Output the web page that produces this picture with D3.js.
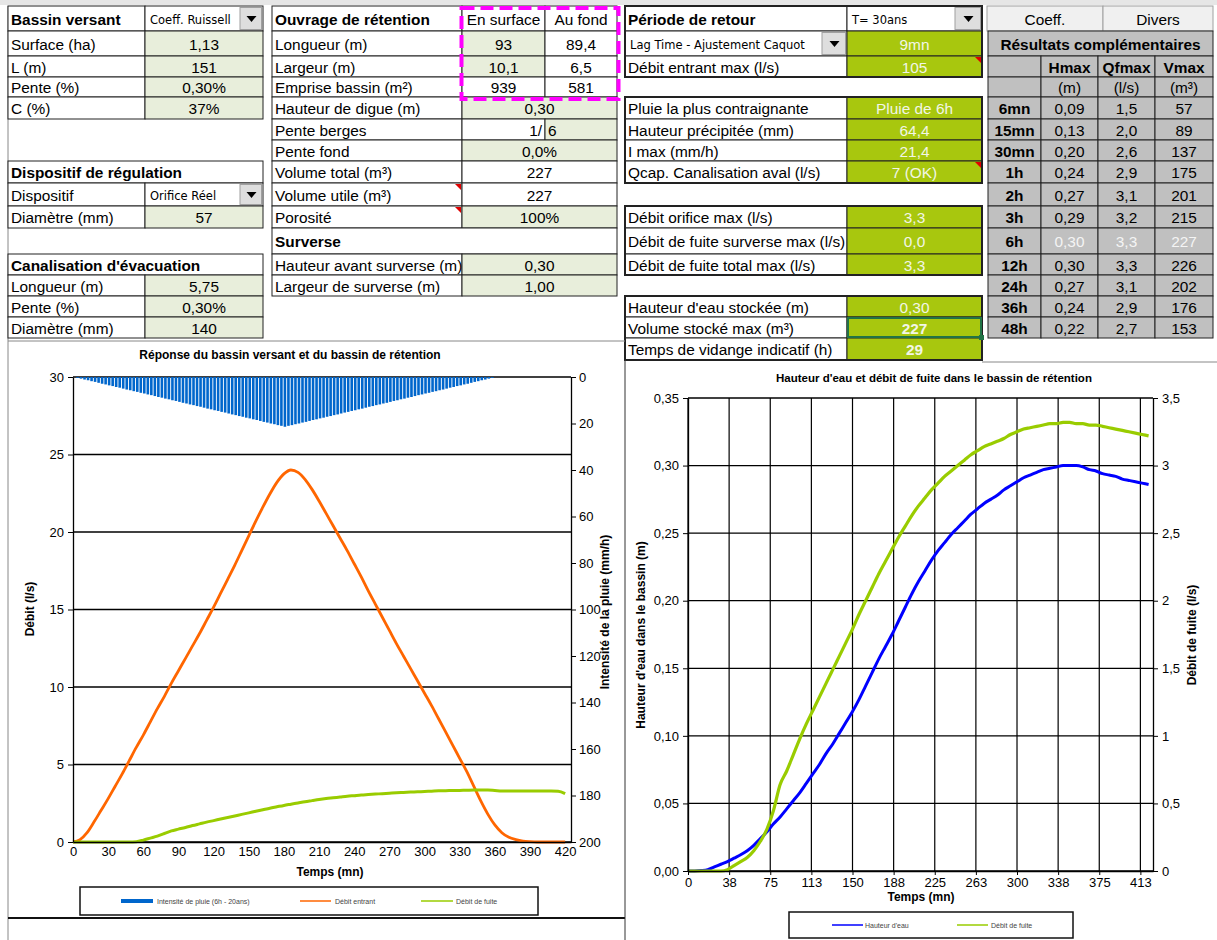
<!DOCTYPE html>
<html>
<head>
<meta charset="utf-8">
<title>Bassin de rétention</title>
<script src="https://d3js.org/d3.v7.min.js"></script>
<style>
body { margin: 0; background: #fff; }
svg { display: block; font-family: "Liberation Sans", Arial, sans-serif; }
</style>
</head>
<body>
<svg id="sheet" width="1217" height="940"></svg>
<script>
// ---- tableaux de la feuille ----
var bvLabels = ["Surface (ha)", "L (m)", "Pente (%)", "C (%)"];
var bvValeurs = ["1,13", "151", "0,30%", "37%"];
var canaLabels = ["Longueur (m)", "Pente (%)", "Diamètre (mm)"];
var canaValeurs = ["5,75", "0,30%", "140"];

var ouvLabels = ["Longueur (m)", "Largeur (m)", "Emprise bassin (m²)"];
var ouvSurface = ["93", "10,1", "939"];
var ouvFond = ["89,4", "6,5", "581"];
var ouvLabels2 = ["Hauteur de digue (m)", "Pente berges", "Pente fond", "Volume total (m³)", "Volume utile (m³)", "Porosité"];
var ouvValeurs2 = ["0,30", "6", "0,0%", "227", "227", "100%"];
var surverseLabels = ["Hauteur avant surverse (m)", "Largeur de surverse (m)"];
var surverseValeurs = ["0,30", "1,00"];

var pluieLabels = ["Pluie la plus contraignante", "Hauteur précipitée (mm)", "I max (mm/h)", "Qcap. Canalisation aval (l/s)"];
var pluieValeurs = ["Pluie de 6h", "64,4", "21,4", "7 (OK)"];
var fuiteLabels = ["Débit orifice max (l/s)", "Débit de fuite surverse max (l/s)", "Débit de fuite total max (l/s)"];
var fuiteValeurs = ["3,3", "0,0", "3,3"];
var stockLabels = ["Hauteur d'eau stockée (m)", "Volume stocké max (m³)", "Temps de vidange indicatif (h)"];
var stockValeurs = ["0,30", "227", "29"];

var dureesPluie = ["6mn", "15mn", "30mn", "1h", "2h", "3h", "6h", "12h", "24h", "36h", "48h"];
var hmax = ["0,09", "0,13", "0,20", "0,24", "0,27", "0,29", "0,30", "0,30", "0,27", "0,24", "0,22"];
var qfmax = ["1,5", "2,0", "2,6", "2,9", "3,1", "3,2", "3,3", "3,3", "3,1", "2,9", "2,7"];
var vmax = ["57", "89", "137", "175", "201", "215", "227", "226", "202", "176", "153"];

// ---- séries des graphiques ----
var temps = [0, 6, 12, 18, 24, 30, 36, 42, 48, 54, 60, 66, 72, 78, 84, 90, 96, 102, 108, 114, 120,
  126, 132, 138, 144, 150, 156, 162, 168, 174, 180, 186, 192, 198, 204, 210, 216, 222, 228, 234, 240,
  246, 252, 258, 264, 270, 276, 282, 288, 294, 300, 306, 312, 318, 324, 330, 336, 342, 348, 354, 360,
  366, 372, 378, 384, 390, 396, 402, 408, 414, 420];
var debitEntrant = [0, 0.15, 0.6, 1.3, 2.05, 2.8, 3.6, 4.4, 5.25, 6.1, 6.9, 7.75, 8.6, 9.4, 10.25, 11.05, 11.85, 12.65, 13.45, 14.3, 15.15,
  16.05, 16.95, 17.85, 18.8, 19.75, 20.7, 21.6, 22.45, 23.2, 23.75, 24.0, 23.85, 23.4, 22.75, 22.0, 21.2, 20.4, 19.6, 18.8, 17.95,
  17.1, 16.2, 15.35, 14.5, 13.65, 12.8, 12.0, 11.2, 10.4, 9.6, 8.8, 7.95, 7.1, 6.25, 5.4, 4.55, 3.6, 2.65, 1.8, 1.1,
  0.6, 0.3, 0.15, 0.06, 0.02, 0, 0, 0, 0, 0];
var debitFuite = [0, 0, 0, 0, 0, 0, 0, 0, 0, 0.02, 0.12, 0.25, 0.38, 0.55, 0.72, 0.83, 0.94, 1.06, 1.17, 1.28, 1.38,
  1.48, 1.58, 1.68, 1.78, 1.88, 1.98, 2.08, 2.18, 2.27, 2.36, 2.44, 2.52, 2.6, 2.67, 2.74, 2.8, 2.85, 2.9, 2.95, 2.99,
  3.03, 3.06, 3.09, 3.12, 3.15, 3.18, 3.2, 3.22, 3.24, 3.26, 3.28, 3.3, 3.31, 3.32, 3.33, 3.34, 3.35, 3.35, 3.35, 3.32,
  3.29, 3.29, 3.29, 3.29, 3.29, 3.29, 3.29, 3.29, 3.28, 3.12];
var tempsPluie = [0, 3, 6, 9, 12, 15, 18, 21, 24, 27, 30, 33, 36, 39, 42, 45, 48, 51, 54, 57, 60,
  63, 66, 69, 72, 75, 78, 81, 84, 87, 90, 93, 96, 99, 102, 105, 108, 111, 114, 117, 120,
  123, 126, 129, 132, 135, 138, 141, 144, 147, 150, 153, 156, 159, 162, 165, 168, 171, 174, 177, 180,
  183, 186, 189, 192, 195, 198, 201, 204, 207, 210, 213, 216, 219, 222, 225, 228, 231, 234, 237, 240,
  243, 246, 249, 252, 255, 258, 261, 264, 267, 270, 273, 276, 279, 282, 285, 288, 291, 294, 297, 300,
  303, 306, 309, 312, 315, 318, 321, 324, 327, 330, 333, 336, 339, 342, 345, 348, 351, 354, 357, 360];
var intensitePluie = [0, 0.4, 0.7, 1.1, 1.4, 1.8, 2.1, 2.5, 2.9, 3.2, 3.6, 3.9, 4.3, 4.6, 5.0, 5.4, 5.7, 6.1, 6.4, 6.8, 7.1,
  7.5, 7.8, 8.2, 8.6, 8.9, 9.3, 9.6, 10.0, 10.3, 10.7, 11.1, 11.4, 11.8, 12.1, 12.5, 12.8, 13.2, 13.6, 13.9, 14.3,
  14.6, 15.0, 15.3, 15.7, 16.1, 16.4, 16.8, 17.1, 17.5, 17.8, 18.2, 18.5, 18.9, 19.3, 19.6, 20.0, 20.3, 20.7, 21.0, 21.4,
  21.0, 20.7, 20.3, 20.0, 19.6, 19.3, 18.9, 18.5, 18.2, 17.8, 17.5, 17.1, 16.8, 16.4, 16.1, 15.7, 15.3, 15.0, 14.6, 14.3,
  13.9, 13.6, 13.2, 12.8, 12.5, 12.1, 11.8, 11.4, 11.1, 10.7, 10.3, 10.0, 9.6, 9.3, 8.9, 8.6, 8.2, 7.8, 7.5, 7.1,
  6.8, 6.4, 6.1, 5.7, 5.4, 5.0, 4.6, 4.3, 3.9, 3.6, 3.2, 2.9, 2.5, 2.1, 1.8, 1.4, 1.1, 0.7, 0.4, 0];
var hauteurEau = [0, 0, 0.0003, 0.001, 0.003, 0.005, 0.007, 0.0095, 0.012, 0.015, 0.019, 0.024, 0.029, 0.035, 0.04, 0.046, 0.052, 0.058, 0.065, 0.072, 0.079,
  0.087, 0.094, 0.102, 0.110, 0.118, 0.127, 0.137, 0.147, 0.157, 0.166, 0.175, 0.185, 0.195, 0.205, 0.214, 0.222, 0.230, 0.237, 0.243, 0.249,
  0.254, 0.259, 0.264, 0.268, 0.272, 0.275, 0.278, 0.282, 0.285, 0.288, 0.291, 0.293, 0.295, 0.297, 0.298, 0.299, 0.300, 0.300, 0.300, 0.299,
  0.297, 0.296, 0.294, 0.293, 0.292, 0.290, 0.289, 0.288, 0.287, 0.286];
var debitFuiteBassin = [0, 0, 0, 0, 0, 0, 0.01, 0.04, 0.07, 0.1, 0.15, 0.22, 0.31, 0.45, 0.64, 0.74, 0.86, 0.98, 1.09, 1.19, 1.29,
  1.39, 1.49, 1.59, 1.69, 1.79, 1.9, 2.0, 2.1, 2.2, 2.29, 2.38, 2.47, 2.55, 2.63, 2.7, 2.76, 2.82, 2.87, 2.92, 2.96,
  3.0, 3.04, 3.08, 3.11, 3.14, 3.16, 3.18, 3.2, 3.23, 3.25, 3.27, 3.28, 3.29, 3.3, 3.31, 3.31, 3.32, 3.32, 3.31, 3.31,
  3.3, 3.3, 3.29, 3.28, 3.27, 3.26, 3.25, 3.24, 3.23, 3.22];

var ticksTemps = [0, 30, 60, 90, 120, 150, 180, 210, 240, 270, 300, 330, 360, 390, 420];
var ticksDebit = [0, 5, 10, 15, 20, 25, 30];
var ticksIntensite = [0, 20, 40, 60, 80, 100, 120, 140, 160, 180, 200];
var ticksTemps2 = [0, 37.5, 75, 112.5, 150, 187.5, 225, 262.5, 300, 337.5, 375, 412.5];
var ticksHauteur = [0, 0.05, 0.1, 0.15, 0.2, 0.25, 0.3, 0.35];
var ticksFuite = [0, 0.5, 1, 1.5, 2, 2.5, 3, 3.5];

// ---- mise en page ----
var svg = d3.select("#sheet");
var rowTop = [6, 31, 56, 77, 97, 119, 140, 161, 183, 206, 228, 254, 275, 296, 317, 338, 360];
var VERT = "#e8eedb", OLIVE = "#a8c70e", GRIS = "#c0c0c0";
var fr = d3.formatLocale({decimal: ",", thousands: " ", grouping: [3], currency: ["", "€"]});

svg.append("rect").attr("x", 0).attr("y", 0).attr("width", 1217).attr("height", 5).attr("fill", "#e6e6e6");

function cell(x0, x1, r, txt, o) {
  o = o || {};
  var y0 = rowTop[r], y1 = rowTop[r + 1];
  svg.append("rect").attr("x", x0).attr("y", y0).attr("width", x1 - x0).attr("height", y1 - y0)
    .attr("fill", o.fill || "#fff").attr("stroke", o.stroke || "#222").attr("stroke-width", 1);
  if (txt) {
    var anchor = o.align == "left" ? "start" : o.align == "right" ? "end" : "middle";
    var tx = o.align == "left" ? x0 + 3 : o.align == "right" ? x1 - 3 : (x0 + x1) / 2;
    svg.append("text").attr("x", tx).attr("y", (y0 + y1) / 2 + 1).attr("dy", "0.35em")
      .attr("text-anchor", anchor).attr("font-size", o.size || 15.4)
      .attr("font-weight", o.bold ? "bold" : null)
      .attr("font-family", o.font || null)
      .attr("fill", o.color || "#000").text(txt);
  }
}

function dropdown(x0, x1, bx, r, txt) {
  var y0 = rowTop[r], y1 = rowTop[r + 1];
  cell(x0, x1, r, "");
  svg.append("text").attr("x", x0 + 5).attr("y", (y0 + y1) / 2 + 1).attr("dy", "0.35em")
    .attr("font-family", "DejaVu Sans").attr("font-size", 11.5).text(txt);
  svg.append("rect").attr("x", bx).attr("y", y0 + 1.5).attr("width", x1 - bx - 1.5).attr("height", y1 - y0 - 3)
    .attr("fill", "#dedede").attr("stroke", "#a0a0a0");
  var cx = (bx + x1) / 2, cy = (y0 + y1) / 2;
  svg.append("path").attr("d", "M" + (cx - 5) + "," + (cy - 2.5) + "h10l-5,6z").attr("fill", "#000");
}

function coin(x, y) {
  svg.append("path").attr("d", "M" + (x - 7) + "," + (y + 1) + "h6v6z").attr("fill", "#e00000");
}

// tableau gauche
svg.append("line").attr("x1", 8).attr("x2", 8).attr("y1", 6).attr("y2", 940).attr("stroke", "#888");
cell(8, 145, 0, "Bassin versant", {bold: true, align: "left"});
dropdown(145, 263, 240, 0, "Coeff. Ruissell");
bvLabels.forEach(function(l, i) {
  cell(8, 145, i + 1, l, {align: "left"});
  cell(145, 263, i + 1, bvValeurs[i], {fill: VERT});
});
cell(8, 263, 7, "Dispositif de régulation", {bold: true, align: "left"});
cell(8, 145, 8, "Dispositif", {align: "left"});
dropdown(145, 263, 240, 8, "Orifice Réel");
cell(8, 145, 9, "Diamètre (mm)", {align: "left"});
cell(145, 263, 9, "57", {fill: VERT});
cell(8, 263, 11, "Canalisation d'évacuation", {bold: true, align: "left"});
canaLabels.forEach(function(l, i) {
  cell(8, 145, i + 12, l, {align: "left"});
  cell(145, 263, i + 12, canaValeurs[i], {fill: VERT});
});

// ouvrage de rétention
cell(272, 462, 0, "Ouvrage de rétention", {bold: true, align: "left"});
cell(462, 545, 0, "En surface");
cell(545, 617, 0, "Au fond");
ouvLabels.forEach(function(l, i) {
  cell(272, 462, i + 1, l, {align: "left"});
  cell(462, 545, i + 1, ouvSurface[i], {fill: i < 2 ? VERT : "#fff"});
  cell(545, 617, i + 1, ouvFond[i]);
});
ouvLabels2.forEach(function(l, i) {
  var r = i + 4;
  cell(272, 462, r, l, {align: "left"});
  if (l == "Pente berges") {
    cell(462, 545, r, "1/", {align: "right"});
    cell(545, 617, r, ouvValeurs2[i], {fill: VERT, align: "left"});
  } else {
    cell(462, 617, r, ouvValeurs2[i], {fill: (r == 7 || r == 8) ? "#fff" : VERT});
  }
});
coin(462, rowTop[8]);
coin(462, rowTop[9]);
cell(272, 617, 10, "Surverse", {bold: true, align: "left"});
surverseLabels.forEach(function(l, i) {
  cell(272, 462, i + 11, l, {align: "left"});
  cell(462, 617, i + 11, surverseValeurs[i], {fill: VERT});
});
svg.append("rect").attr("x", 461.5).attr("y", 8).attr("width", 157).attr("height", 91)
  .attr("fill", "none").attr("stroke", "#ff00ff").attr("stroke-width", 4).attr("stroke-dasharray", "13,6");

// période de retour
var light = "#f2f6e6";
cell(625, 847, 0, "Période de retour", {bold: true, align: "left"});
dropdown(847, 982, 955, 0, "T= 30ans");
dropdown(625, 847, 822, 1, "Lag Time - Ajustement Caquot");
cell(847, 982, 1, "9mn", {fill: OLIVE, color: light});
cell(625, 847, 2, "Débit entrant max (l/s)", {align: "left"});
cell(847, 982, 2, "105", {fill: OLIVE, color: light});
coin(982, rowTop[2]);
function bloc(labels, valeurs, r0, bold) {
  labels.forEach(function(l, i) {
    cell(625, 847, r0 + i, l, {align: "left"});
    cell(847, 982, r0 + i, valeurs[i], {fill: OLIVE, color: light, bold: bold && i > 0});
  });
  svg.append("rect").attr("x", 625).attr("y", rowTop[r0]).attr("width", 357)
    .attr("height", rowTop[r0 + labels.length] - rowTop[r0])
    .attr("fill", "none").attr("stroke", "#222").attr("stroke-width", 2);
}
bloc(pluieLabels, pluieValeurs, 4);
coin(982, rowTop[7]);
bloc(fuiteLabels, fuiteValeurs, 9);
bloc(stockLabels, stockValeurs, 13, true);
svg.append("rect").attr("x", 625).attr("y", rowTop[0]).attr("width", 357).attr("height", rowTop[3] - rowTop[0])
  .attr("fill", "none").attr("stroke", "#222").attr("stroke-width", 2);
svg.append("rect").attr("x", 848).attr("y", rowTop[14] + 1).attr("width", 133).attr("height", rowTop[15] - rowTop[14] - 2)
  .attr("fill", "none").attr("stroke", "#217346").attr("stroke-width", 2);
svg.append("rect").attr("x", 979).attr("y", rowTop[15] - 3).attr("width", 5).attr("height", 5).attr("fill", "#217346");

// résultats complémentaires
cell(987, 1103, 0, "Coeff.", {fill: "#f0f0f0", stroke: "#a0a0a0"});
cell(1103, 1213, 0, "Divers", {fill: "#f0f0f0", stroke: "#a0a0a0"});
var colX = [988, 1041, 1098, 1155, 1213];
cell(988, 1213, 1, "Résultats complémentaires", {fill: GRIS, bold: true});
["", "Hmax", "Qfmax", "Vmax"].forEach(function(t, j) { cell(colX[j], colX[j + 1], 2, t, {fill: GRIS, bold: true}); });
["", "(m)", "(l/s)", "(m³)"].forEach(function(t, j) { cell(colX[j], colX[j + 1], 3, t, {fill: GRIS}); });
dureesPluie.forEach(function(d, i) {
  var r = i + 4, c = d == "6h" ? "#f4f4f4" : "#000";
  cell(colX[0], colX[1], r, d, {fill: GRIS, bold: true});
  cell(colX[1], colX[2], r, hmax[i], {fill: GRIS, color: c});
  cell(colX[2], colX[3], r, qfmax[i], {fill: GRIS, color: c});
  cell(colX[3], colX[4], r, vmax[i], {fill: GRIS, color: c});
});

// cadres des graphiques
svg.append("line").attr("x1", 8).attr("x2", 625).attr("y1", 341).attr("y2", 341).attr("stroke", "#888");
svg.append("line").attr("x1", 8).attr("x2", 625).attr("y1", 918).attr("y2", 918).attr("stroke", "#111").attr("stroke-width", 2);
svg.append("line").attr("x1", 625).attr("x2", 625).attr("y1", 360).attr("y2", 940).attr("stroke", "#333");
svg.append("line").attr("x1", 982).attr("x2", 1217).attr("y1", 362).attr("y2", 362).attr("stroke", "#888");

function styleAxis(g, size) {
  g.attr("font-family", "Liberation Sans, Arial, sans-serif").attr("font-size", size);
  g.select(".domain").attr("stroke", "#000").attr("stroke-width", 1.3);
  g.selectAll(".tick line").attr("stroke", "#000");
  g.selectAll(".tick text").attr("fill", "#000");
}

// ---- graphique 1 ----
var xL = d3.scaleLinear().domain([0, 425]).range([73, 571]);
var yL = d3.scaleLinear().domain([0, 30]).range([842, 377]);
var yLr = d3.scaleLinear().domain([0, 200]).range([377, 842]);

svg.append("text").attr("x", 290).attr("y", 359).attr("text-anchor", "middle")
  .attr("font-size", 12).attr("font-weight", "bold").text("Réponse du bassin versant et du bassin de rétention");

svg.append("g").selectAll("line").data(ticksDebit).join("line")
  .attr("x1", xL(0)).attr("x2", xL(425)).attr("y1", yL).attr("y2", yL)
  .attr("stroke", "#000").attr("stroke-width", 1.3);

svg.append("g").selectAll("rect").data(intensitePluie).join("rect")
  .attr("x", function(d, i) { return xL(tempsPluie[i]) - 0.3; })
  .attr("width", 2.6)
  .attr("y", yLr(0))
  .attr("height", function(d) { return yLr(d) - yLr(0); })
  .attr("fill", "#0066cc");

var ligneL = function(vals) {
  return d3.line().curve(d3.curveMonotoneX)
    .x(function(d, i) { return xL(temps[i]); }).y(function(d) { return yL(d); })(vals);
};
svg.append("path").attr("d", ligneL(debitEntrant)).attr("fill", "none").attr("stroke", "#ff6600").attr("stroke-width", 2.8).attr("stroke-linejoin", "round");
svg.append("path").attr("d", ligneL(debitFuite)).attr("fill", "none").attr("stroke", "#99cc00").attr("stroke-width", 3).attr("stroke-linejoin", "round");

styleAxis(svg.append("g").attr("transform", "translate(73,0)")
  .call(d3.axisLeft(yL).tickValues(ticksDebit).tickSize(5).tickSizeOuter(0).tickPadding(4)), 13);
styleAxis(svg.append("g").attr("transform", "translate(571,0)")
  .call(d3.axisRight(yLr).tickValues(ticksIntensite).tickSize(5).tickSizeOuter(0).tickPadding(3)), 13);
styleAxis(svg.append("g").attr("transform", "translate(0,842)")
  .call(d3.axisBottom(xL).tickValues(ticksTemps).tickSize(0).tickSizeOuter(0).tickPadding(5)), 13);

svg.append("text").attr("transform", "translate(34,609) rotate(-90)").attr("text-anchor", "middle")
  .attr("font-size", 12).attr("font-weight", "bold").text("Débit (l/s)");
svg.append("text").attr("transform", "translate(609,612) rotate(-90)").attr("text-anchor", "middle")
  .attr("font-size", 12).attr("font-weight", "bold").text("Intensité de la pluie (mm/h)");
svg.append("text").attr("x", 330).attr("y", 876).attr("text-anchor", "middle")
  .attr("font-size", 12).attr("font-weight", "bold").text("Temps (mn)");

var legL = svg.append("g");
legL.append("rect").attr("x", 80).attr("y", 887).attr("width", 458).attr("height", 28)
  .attr("fill", "#fff").attr("stroke", "#111").attr("stroke-width", 1.5);
legL.append("rect").attr("x", 121).attr("y", 899).attr("width", 32).attr("height", 4).attr("fill", "#0066cc");
legL.append("line").attr("x1", 300).attr("x2", 331).attr("y1", 901).attr("y2", 901).attr("stroke", "#ff6600").attr("stroke-width", 1.5);
legL.append("line").attr("x1", 421).attr("x2", 453).attr("y1", 901).attr("y2", 901).attr("stroke", "#99cc00").attr("stroke-width", 1.5);
[[157, "Intensité de pluie (6h - 20ans)"], [335, "Débit entrant"], [456, "Débit de fuite"]].forEach(function(t) {
  legL.append("text").attr("x", t[0]).attr("y", 903.5).attr("font-size", 7).attr("fill", "#444").text(t[1]);
});

// ---- graphique 2 ----
var xR = d3.scaleLinear().domain([0, 424]).range([688, 1153]);
var yR = d3.scaleLinear().domain([0, 0.35]).range([871, 398]);
var yRr = d3.scaleLinear().domain([0, 3.5]).range([871, 398]);

svg.append("text").attr("x", 934).attr("y", 382).attr("text-anchor", "middle")
  .attr("font-size", 11.5).attr("font-weight", "bold").text("Hauteur d'eau et débit de fuite dans le bassin de rétention");

svg.append("g").selectAll("line").data(ticksHauteur).join("line")
  .attr("x1", xR(0)).attr("x2", xR(424)).attr("y1", yR).attr("y2", yR)
  .attr("stroke", "#000").attr("stroke-width", 1.3);
svg.append("g").selectAll("line").data(ticksTemps2).join("line")
  .attr("x1", xR).attr("x2", xR).attr("y1", yR(0)).attr("y2", yR(0.35))
  .attr("stroke", "#000").attr("stroke-width", 1.2);

svg.append("path").attr("d", d3.line().curve(d3.curveMonotoneX)
    .x(function(d, i) { return xR(temps[i]); }).y(function(d) { return yR(d); })(hauteurEau))
  .attr("fill", "none").attr("stroke", "#0000ff").attr("stroke-width", 3).attr("stroke-linejoin", "round");
svg.append("path").attr("d", d3.line().curve(d3.curveMonotoneX)
    .x(function(d, i) { return xR(temps[i]); }).y(function(d) { return yRr(d); })(debitFuiteBassin))
  .attr("fill", "none").attr("stroke", "#99cc00").attr("stroke-width", 3.2).attr("stroke-linejoin", "round");

styleAxis(svg.append("g").attr("transform", "translate(688,0)")
  .call(d3.axisLeft(yR).tickValues(ticksHauteur).tickSize(5).tickSizeOuter(0).tickPadding(4).tickFormat(fr.format(".2f"))), 13);
styleAxis(svg.append("g").attr("transform", "translate(1153,0)")
  .call(d3.axisRight(yRr).tickValues(ticksFuite).tickSize(5).tickSizeOuter(0).tickPadding(4).tickFormat(fr.format("~g"))), 13);
styleAxis(svg.append("g").attr("transform", "translate(0,871)")
  .call(d3.axisBottom(xR).tickValues(ticksTemps2).tickSize(4).tickSizeOuter(0).tickPadding(3)
    .tickFormat(function(d) { return Math.round(d); })), 13);

svg.append("text").attr("transform", "translate(645,635) rotate(-90)").attr("text-anchor", "middle")
  .attr("font-size", 12).attr("font-weight", "bold").text("Hauteur d'eau dans le bassin (m)");
svg.append("text").attr("transform", "translate(1196,635) rotate(-90)").attr("text-anchor", "middle")
  .attr("font-size", 12).attr("font-weight", "bold").text("Débit de fuite (l/s)");
svg.append("text").attr("x", 921).attr("y", 901).attr("text-anchor", "middle")
  .attr("font-size", 12).attr("font-weight", "bold").text("Temps (mn)");

var legR = svg.append("g");
legR.append("rect").attr("x", 789).attr("y", 912).attr("width", 284).attr("height", 26)
  .attr("fill", "#fff").attr("stroke", "#111").attr("stroke-width", 1.5);
legR.append("line").attr("x1", 832).attr("x2", 863).attr("y1", 925).attr("y2", 925).attr("stroke", "#0000ff").attr("stroke-width", 1.5);
legR.append("line").attr("x1", 957).attr("x2", 988).attr("y1", 925).attr("y2", 925).attr("stroke", "#99cc00").attr("stroke-width", 1.5);
[[865, "Hauteur d'eau"], [991, "Débit de fuite"]].forEach(function(t) {
  legR.append("text").attr("x", t[0]).attr("y", 927.5).attr("font-size", 7).attr("fill", "#444").text(t[1]);
});
</script>
</body>
</html>
